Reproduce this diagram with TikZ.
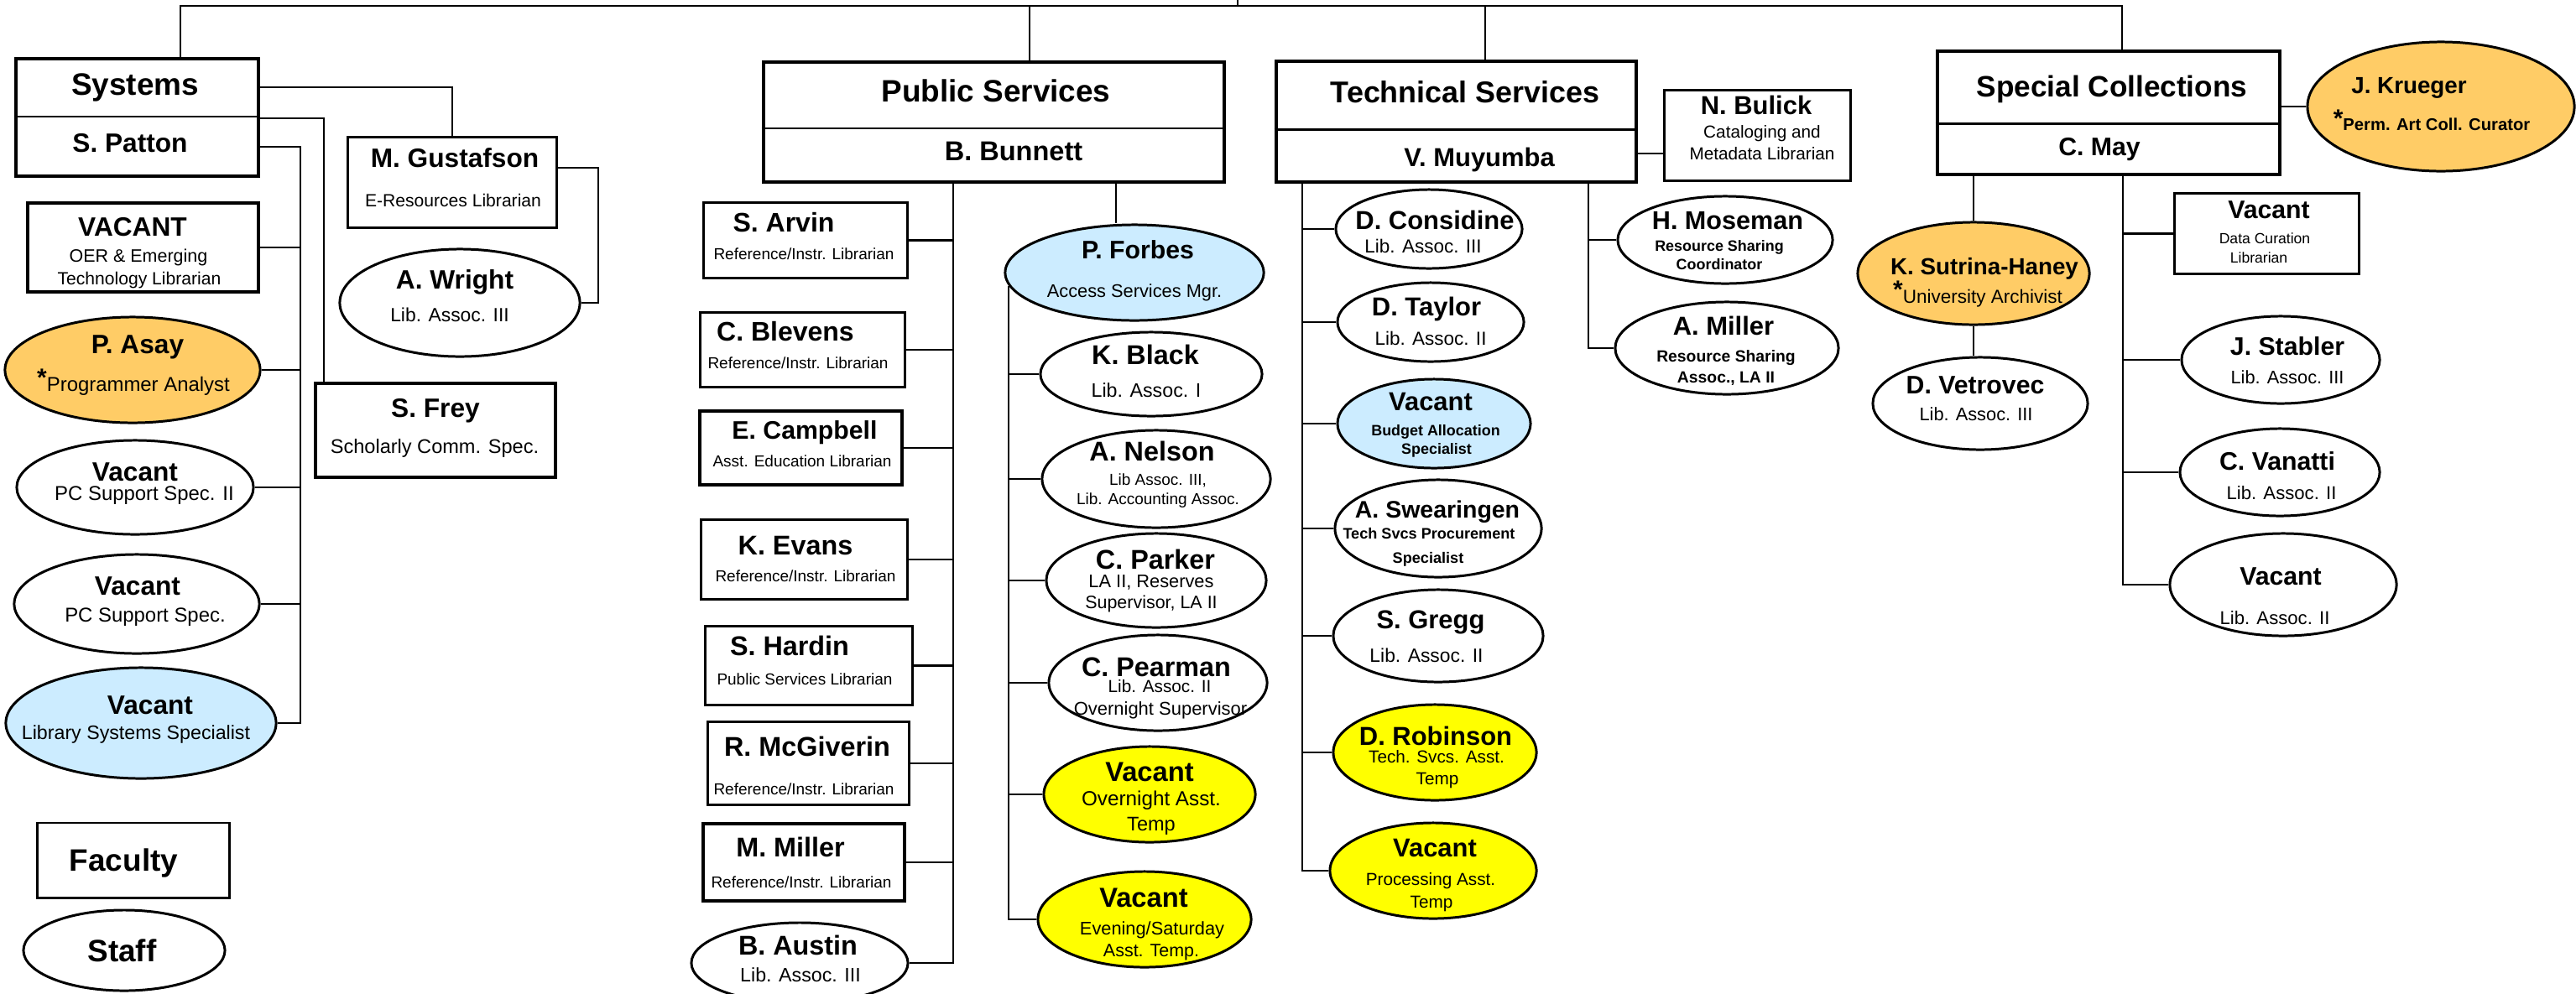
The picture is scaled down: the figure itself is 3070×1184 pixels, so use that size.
\documentclass[tikz,border=0pt]{standalone}
\usepackage{fontspec}
\setmainfont{Liberation Sans}
\usetikzlibrary{shapes.geometric,calc}
\definecolor{orng}{HTML}{FFCC66}
\definecolor{lblue}{HTML}{CCECFF}
\definecolor{yell}{HTML}{FFFF00}
\newcommand\mkbox[5]{\node[#1, minimum width=#4cm, minimum height=#5cm] (#2) at (#3) {};}
\newcommand\mkell[5]{\node[ell, #1, minimum width=#4cm, minimum height=#5cm] (#2) at (#3) {};}
\newcommand\mktx[4]{\node[#1] (#2) at (#3) {#4};}
\newcommand\astr[1]{\raisebox{#1}{\fontsize{8.5}{8.5}\selectfont\bfseries *}}
\begin{document}
\begin{tikzpicture}[x=0.01cm, y=-0.01cm,
  dept/.style={draw, line width=1.3pt, inner sep=0pt, fill=white},
  box/.style={draw, line width=0.85pt, inner sep=0pt, fill=white},
  boxb/.style={draw, line width=1.3pt, inner sep=0pt, fill=white},
  ell/.style={draw, ellipse, line width=0.85pt, inner sep=0pt, fill=white},
  con/.style={line width=0.6pt},
  div/.style={line width=0.7pt},
  t/.style={inner sep=0pt, anchor=base, font=\fontsize{#1}{#1}\selectfont, yshift=-0.358*#1pt},
  tb/.style={inner sep=0pt, anchor=base, font=\fontsize{#1}{#1}\selectfont\bfseries, yshift=-0.358*#1pt},
]
\useasboundingbox (0,0) rectangle (3070,1184);

% ---------- department boxes ----------
\mkbox{dept}{sys}{163.5,140}{2.89}{1.40}
\mkbox{dept}{ps}{1184.5,145.5}{5.49}{1.43}
\mkbox{dept}{ts}{1735.5,145}{4.29}{1.44}
\mkbox{dept}{sc}{2513,134.5}{4.08}{1.47}
\draw[div] ($(sys.north west)!0.493!(sys.south west)$) -- ($(sys.north east)!0.493!(sys.south east)$);
\draw[div] ($(ps.north west)!0.552!(ps.south west)$) -- ($(ps.north east)!0.552!(ps.south east)$);
\draw[div] ($(ts.north west)!0.5625!(ts.south west)$) -- ($(ts.north east)!0.5625!(ts.south east)$);
\draw[div] ($(sc.north west)!0.585!(sc.south west)$) -- ($(sc.north east)!0.585!(sc.south east)$);

% ---------- Systems ----------
\mkbox{box}{gus}{539,217.5}{2.48}{1.07}
\mkbox{boxb}{frey}{519,513}{2.86}{1.12}
\mkbox{boxb}{vac}{170.5,295}{2.75}{1.06}
\mkbox{box}{fac}{159,1025.5}{2.28}{0.89}
\mkell{}{wright}{548,361}{2.86}{1.28}
\mkell{fill=orng}{asay}{158,441}{3.04}{1.26}
\mkell{}{pc2}{161,581}{2.82}{1.12}
\mkell{}{pc1}{163,720}{2.92}{1.18}
\mkell{fill=lblue}{lss}{168,862}{3.22}{1.32}
\mkell{}{staff}{148,1133}{2.40}{0.96}

% ---------- Public Services ----------
\mkbox{box}{arvin}{960,286.5}{2.42}{0.89}
\mkbox{box}{blev}{956.5,417}{2.43}{0.88}
\mkbox{boxb}{camp}{954.5,534}{2.41}{0.88}
\mkbox{box}{evans}{958.5,667}{2.45}{0.94}
\mkbox{box}{hard}{964,793.5}{2.46}{0.93}
\mkbox{box}{mcg}{963.5,910}{2.39}{0.98}
\mkbox{boxb}{mmil}{958,1028}{2.40}{0.92}
\mkell{}{austin}{953,1148}{2.58}{0.96}
\mkell{fill=lblue}{forbes}{1352,325}{3.08}{1.14}
\mkell{}{kblack}{1372,446}{2.64}{1.00}
\mkell{}{nelson}{1378,571}{2.72}{1.16}
\mkell{}{parker}{1378,692}{2.62}{1.12}
\mkell{}{pearman}{1380,814}{2.60}{1.14}
\mkell{fill=yell}{over}{1370,947}{2.52}{1.14}
\mkell{fill=yell}{eve}{1364,1096}{2.54}{1.14}

% ---------- Technical Services ----------
\mkbox{box}{bulick}{2094.5,161.5}{2.21}{1.07}
\mkell{}{cons}{1703,273}{2.22}{0.94}
\mkell{}{tayl}{1705,384}{2.22}{0.94}
\mkell{fill=lblue}{budg}{1709,505}{2.30}{1.06}
\mkell{}{swear}{1714,630}{2.46}{1.16}
\mkell{}{gregg}{1714,758}{2.50}{1.10}
\mkell{fill=yell}{robin}{1710,897}{2.42}{1.14}
\mkell{fill=yell}{proc}{1708,1038}{2.46}{1.14}
\mkell{}{mose}{2056,286}{2.56}{1.04}
\mkell{}{amil}{2058,415}{2.66}{1.10}

% ---------- Special Collections ----------
\mkell{fill=orng}{kr}{2909,127}{3.18}{1.54}
\mkbox{box}{dc}{2701.5,278.5}{2.19}{0.95}
\mkell{fill=orng}{sut}{2352,326}{2.76}{1.22}
\mkell{}{vet}{2360,481}{2.56}{1.10}
\mkell{}{stab}{2718,429}{2.36}{1.04}
\mkell{}{vana}{2717,563}{2.38}{1.04}
\mkell{}{vla}{2721,697}{2.70}{1.22}

% ---------- connectors ----------
\coordinate (busL) at (215,7);
\coordinate (busR) at (2529,7);
\coordinate (root) at (1475,0);
\coordinate (psT) at (1227,7);
\coordinate (tsT) at (1770,7);
\draw[con] (busL |- sys.north) -- (busL) -- (busR) -- (busR |- sc.north);
\draw[con] (root) -- (root |- busL);
\draw[con] (psT) -- (psT |- ps.north);
\draw[con] (tsT) -- (tsT |- ts.north);

% Systems
\coordinate (j1) at (539,104);
\coordinate (j2) at (386,141);
\coordinate (j3) at (358,175);
\coordinate (j4) at (713,200);
\draw[con] (sys.east |- j1) -- (j1) -- (gus.north);
\draw[con] (sys.east |- j2) -- (j2) -- (j2 |- frey.north);
\draw[con] (sys.east |- j3) -- (j3) -- (j3 |- lss.east) -- (lss.east);
\draw[con] (j3 |- vac.east) -- (vac.east);
\draw[con] (j3 |- asay.east) -- (asay.east);
\draw[con] (j3 |- pc2.east) -- (pc2.east);
\draw[con] (j3 |- pc1.east) -- (pc1.east);
\draw[con] (gus.east |- j4) -- (j4) -- (j4 |- wright.east) -- (wright.east);

% Public Services
\coordinate (psL) at (1136,217);
\coordinate (psR) at (1330,217);
\draw[con] (psL |- ps.south) -- (psL |- austin.east) -- (austin.east);
\foreach \n in {arvin,blev,camp,evans,hard,mcg,mmil} \draw[con] (psL |- \n.east) -- (\n.east);
\draw[con] (psR |- ps.south) -- (psR |- forbes.north);
\draw[con] (forbes.186) -- (forbes.186 |- eve.west) -- (eve.west);
\foreach \n in {kblack,nelson,parker,pearman,over} \draw[con] (forbes.186 |- \n.west) -- (\n.west);

% Technical Services
\coordinate (tsL) at (1552,217);
\coordinate (tsR) at (1893,217);
\coordinate (tsB) at (1950,183);
\draw[con] (ts.east |- tsB) -- (tsB -| bulick.west);
\draw[con] (tsL |- ts.south) -- (tsL |- proc.west) -- (proc.west);
\foreach \n in {cons,tayl,budg,swear,gregg,robin} \draw[con] (tsL |- \n.west) -- (\n.west);
\draw[con] (tsR |- ts.south) -- (tsR |- amil.west) -- (amil.west);
\draw[con] (tsR |- mose.west) -- (mose.west);

% Special Collections
\coordinate (scR) at (2530,208);
\draw[con] (sc.east |- kr.west) -- (kr.west);
\draw[con] (sut.north |- sc.south) -- (sut.north);
\draw[con] (sut.south) -- (sut.south |- vet.north);
\draw[con] (scR |- sc.south) -- (scR |- vla.west) -- (vla.west);
\foreach \n in {dc,stab,vana} \draw[con] (scR |- \n.west) -- (\n.west);

% ---------- texts ----------
\mktx{tb=10.5}{sysT}{161,100}{Systems}
\mktx{tb=9}{sysN}{155,170}{S. Patton}
\mktx{tb=9}{gusN}{542,188}{M. Gustafson}
\mktx{t=6}{gusS}{540,239}{E-Resources Librarian}
\mktx{tb=9}{wrN}{542,333}{A. Wright}
\mktx{t=6.5}{wrS}{536,375}{Lib. Assoc. III}
\mktx{tb=9}{freyN}{519,486}{S. Frey}
\mktx{t=6.7}{freyS}{518,532}{Scholarly Comm. Spec.}
\mktx{tb=9}{vacN}{158,270}{VACANT}
\mktx{t=6.1}{vacS1}{165,305}{OER \& Emerging}
\mktx{t=6}{vacS2}{166,332}{Technology Librarian}
\mktx{tb=9}{asayN}{164,410}{P. Asay}
\mktx{t=6.8}{asayS}{159,458}{\astr{1.6pt}Programmer Analyst}
\mktx{tb=9}{pc2N}{161,562}{Vacant}
\mktx{t=6.8}{pc2S}{172,588}{PC Support Spec. II}
\mktx{tb=9}{pc1N}{164,698}{Vacant}
\mktx{t=6.8}{pc1S}{173,733}{PC Support Spec.}
\mktx{tb=9}{lssN}{179,840}{Vacant}
\mktx{t=6.6}{lssS}{162,873}{Library Systems Specialist}
\mktx{tb=10.5}{facN}{147.5,1025}{Faculty}
\mktx{tb=10.5}{staffN}{145.5,1133}{Staff}

\mktx{tb=10.5}{psTt}{1187,108}{Public Services}
\mktx{tb=9.25}{psN}{1208,180}{B. Bunnett}
\mktx{tb=9.1}{arvN}{934,265}{S. Arvin}
\mktx{t=5.4}{arvS}{958,303}{Reference/Instr. Librarian}
\mktx{tb=9.1}{blevN}{936,395}{C. Blevens}
\mktx{t=5.4}{blevS}{951,433}{Reference/Instr. Librarian}
\mktx{tb=8.6}{campN}{959,513}{E. Campbell}
\mktx{t=5.4}{campS}{956,550}{Asst. Education Librarian}
\mktx{tb=9.2}{evN}{948,650}{K. Evans}
\mktx{t=5.4}{evS}{960,687}{Reference/Instr. Librarian}
\mktx{tb=9.2}{hardN}{941,770}{S. Hardin}
\mktx{t=5.4}{hardS}{959,810}{Public Services Librarian}
\mktx{tb=9.2}{mcgN}{962,890}{R. McGiverin}
\mktx{t=5.4}{mcgS}{958,941}{Reference/Instr. Librarian}
\mktx{tb=9.2}{mmN}{942,1010}{M. Miller}
\mktx{t=5.4}{mmS}{955,1052}{Reference/Instr. Librarian}
\mktx{tb=9.2}{ausN}{951,1127}{B. Austin}
\mktx{t=6.6}{ausS}{954,1162}{Lib. Assoc. III}
\mktx{tb=8.6}{forN}{1356,298}{P. Forbes}
\mktx{t=6.2}{forS}{1352,347}{Access Services Mgr.}
\mktx{tb=9.2}{kbN}{1365,423}{K. Black}
\mktx{t=6.6}{kbS}{1366,465}{Lib. Assoc. I}
\mktx{tb=9.2}{nelN}{1373,538}{A. Nelson}
\mktx{t=5.4}{nelS1}{1380,572}{Lib Assoc. III,}
\mktx{t=5.4}{nelS2}{1380,595}{Lib. Accounting Assoc.}
\mktx{tb=9.2}{parN}{1377,667}{C. Parker}
\mktx{t=6.2}{parS1}{1372,693}{LA II, Reserves}
\mktx{t=6.1}{parS2}{1372,718}{Supervisor, LA II}
\mktx{tb=9.2}{peaN}{1378,795}{C. Pearman}
\mktx{t=5.9}{peaS1}{1382,818}{Lib. Assoc. II}
\mktx{t=6.25}{peaS2}{1383,845}{Overnight Supervisor}
\mktx{tb=9.3}{ovN}{1370,920}{Vacant}
\mktx{t=6.9}{ovS1}{1372,952}{Overnight Asst.}
\mktx{t=6.7}{ovS2}{1372,982}{Temp}
\mktx{tb=9.3}{evnN}{1363,1070}{Vacant}
\mktx{t=6.2}{evnS1}{1373,1107}{Evening/Saturday}
\mktx{t=6.1}{evnS2}{1372,1133}{Asst. Temp.}

\mktx{tb=10.2}{tsTt}{1746,110}{Technical Services}
\mktx{tb=8.8}{tsN}{1763,187}{V. Muyumba}
\mktx{tb=8.8}{bulN}{2093,125}{N. Bulick}
\mktx{t=5.9}{bulS1}{2100,157}{Cataloging and}
\mktx{t=5.9}{bulS2}{2100,183}{Metadata Librarian}
\mktx{tb=8.8}{consN}{1710,262}{D. Considine}
\mktx{t=6.4}{consS}{1696,293}{Lib. Assoc. III}
\mktx{tb=8.8}{taylN}{1700,365}{D. Taylor}
\mktx{t=6.4}{taylS}{1705,403}{Lib. Assoc. II}
\mktx{tb=8.8}{budN}{1705,478}{Vacant}
\mktx{tb=5.1}{budS1}{1711,513}{Budget Allocation}
\mktx{tb=5.1}{budS2}{1712,535}{Specialist}
\mktx{tb=8.1}{swN}{1713,607}{A. Swearingen}
\mktx{tb=5.15}{swS1}{1703,636}{Tech Svcs Procurement}
\mktx{tb=5.15}{swS2}{1702,665}{Specialist}
\mktx{tb=8.8}{grN}{1705,738}{S. Gregg}
\mktx{t=6.5}{grS}{1700,781}{Lib. Assoc. II}
\mktx{tb=8.8}{robN}{1711,877}{D. Robinson}
\mktx{t=5.9}{robS1}{1712,902}{Tech. Svcs. Asst.}
\mktx{t=5.9}{robS2}{1713,928}{Temp}
\mktx{tb=8.8}{prN}{1710,1010}{Vacant}
\mktx{t=5.9}{prS1}{1705,1048}{Processing Asst.}
\mktx{t=5.9}{prS2}{1706,1075}{Temp}
\mktx{tb=8.7}{moN}{2059,263}{H. Moseman}
\mktx{tb=5.1}{moS1}{2049,293}{Resource Sharing}
\mktx{tb=5.1}{moS2}{2049,315}{Coordinator}
\mktx{tb=8.8}{amN}{2054,388}{A. Miller}
\mktx{tb=5.5}{amS1}{2057,425}{Resource Sharing}
\mktx{tb=5.5}{amS2}{2057,450}{Assoc., LA II}

\mktx{tb=10}{scTt}{2517,103}{Special Collections}
\mktx{tb=8.6}{scN}{2502,175}{C. May}
\mktx{tb=7.9}{krN}{2871,102}{J. Krueger}
\mktx{tb=5.75}{krS}{2898,148}{\astr{1.1pt}Perm. Art Coll. Curator}
\mktx{tb=8.6}{dcN}{2704,250}{Vacant}
\mktx{t=5}{dcS1}{2699,284}{Data Curation}
\mktx{t=5}{dcS2}{2692,307}{Librarian}
\mktx{tb=7.9}{sutN}{2365,318}{K. Sutrina-Haney}
\mktx{t=6.4}{sutS}{2357,353}{\astr{1.7pt}University Archivist}
\mktx{tb=8.6}{vetN}{2354,459}{D. Vetrovec}
\mktx{t=6.2}{vetS}{2355,494}{Lib. Assoc. III}
\mktx{tb=8.6}{stN}{2726,413}{J. Stabler}
\mktx{t=6.2}{stS}{2726,450}{Lib. Assoc. III}
\mktx{tb=8.6}{vaN}{2714,550}{C. Vanatti}
\mktx{t=6.3}{vaS}{2719,588}{Lib. Assoc. II}
\mktx{tb=8.6}{vlN}{2718,687}{Vacant}
\mktx{t=6.3}{vlS}{2711,737}{Lib. Assoc. II}
\end{tikzpicture}
\end{document}
